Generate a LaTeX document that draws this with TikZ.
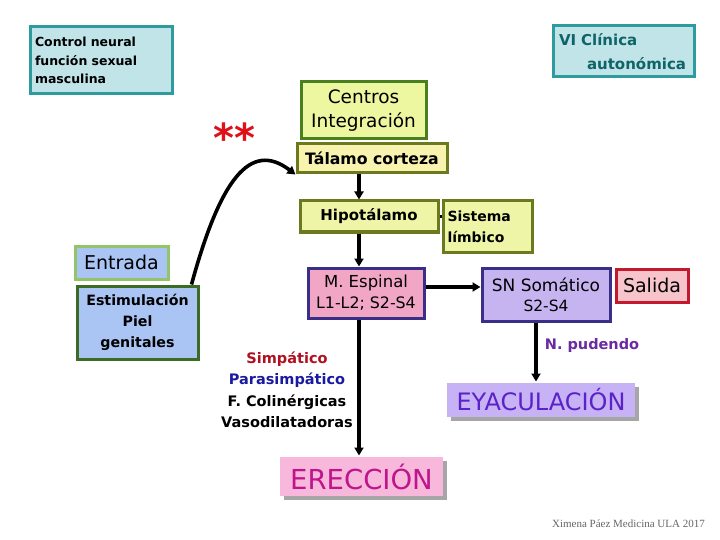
\documentclass[tikz,border=0pt]{standalone}
\usepackage{fontspec}
\setmainfont{DejaVu Sans}
\newfontfamily\footfont{Liberation Serif}
\usetikzlibrary{arrows.meta,shadows,calc}
\definecolor{tealfill}{HTML}{C0E4E8}
\definecolor{tealdraw}{HTML}{2E9B9E}
\definecolor{tealtext}{HTML}{0E6468}
\definecolor{cenfill}{HTML}{EDF7A0}
\definecolor{cendraw}{HTML}{4A7F1F}
\definecolor{talfill}{HTML}{F8F4B0}
\definecolor{oldraw}{HTML}{6B7A1F}
\definecolor{hipfill}{HTML}{EEF5A6}
\definecolor{bluefill}{HTML}{AAC4F4}
\definecolor{lgreen}{HTML}{94C46A}
\definecolor{dgreen}{HTML}{3C6B25}
\definecolor{pinkfill}{HTML}{F2A6C6}
\definecolor{navydraw}{HTML}{3A2F86}
\definecolor{lavfill}{HTML}{C6B4F0}
\definecolor{salfill}{HTML}{F8C4CC}
\definecolor{saldraw}{HTML}{C4182C}
\definecolor{eyfill}{HTML}{C8B2F6}
\definecolor{eytext}{HTML}{5A22C8}
\definecolor{erfill}{HTML}{F8B8DC}
\definecolor{ertext}{HTML}{C0148C}
\definecolor{simred}{HTML}{B01020}
\definecolor{parblue}{HTML}{1A1AA0}
\definecolor{pudpurple}{HTML}{6A2AA0}
\definecolor{starred}{HTML}{E0101A}
\newcommand{\fsz}[2]{\fontsize{#1}{#2}\selectfont}
\begin{document}
\begin{tikzpicture}[x=1pt,y=-1pt,
  boxx/.style={draw, line width=3pt, inner sep=0pt, align=center},
  conn/.style={line width=3.6pt, -{Triangle[length=8pt,width=9pt]}},
  plainconn/.style={line width=3.6pt},
  txt/.style={inner sep=0pt, align=center}]
\useasboundingbox (0,0) rectangle (720,540);
\fill[white] (0,0) rectangle (720,540);

% boxes
\node[boxx, fill=tealfill, draw=tealdraw, minimum width=142pt, minimum height=67pt,
  align=left, text width=132pt, font=\fsz{12.5}{18.5}\bfseries] (ctrl) at (101,60.5)
  {Control neural\\función sexual\\masculina};
\node[boxx, fill=tealfill, draw=tealdraw, minimum width=141pt, minimum height=51pt,
  align=left, text width=130pt, text=tealtext, font=\fsz{15}{24}\bfseries] (vi) at (624,51.5)
  {\mbox{VI Clínica}\\\hspace*{28pt}\mbox{autonómica}};
\node[boxx, fill=cenfill, draw=cendraw, minimum width=125pt, minimum height=57pt,
  font=\fsz{18.5}{24}] (centros) at (363.5,110.5) {Centros\\Integración};
\node[boxx, fill=talfill, draw=oldraw, minimum width=150pt, minimum height=29pt,
  font=\fsz{15.7}{20}\bfseries] (talamo) at (372,158.5) {Tálamo corteza};
\node[boxx, fill=hipfill, draw=oldraw, minimum width=138pt, minimum height=31pt,
  font=\fsz{15}{20}\bfseries] (hipo) at (369,216.5) {Hipotálamo};
\node[boxx, fill=hipfill, draw=oldraw, minimum width=89pt, minimum height=51pt,
  align=left, text width=80pt, font=\fsz{14}{21}\bfseries] (limbico) at (487.5,226.5) {Sistema\\límbico};
\node[boxx, fill=bluefill, draw=lgreen, minimum width=93pt, minimum height=33pt,
  font=\fsz{19}{22}] (entrada) at (121.5,262.5) {Entrada};
\node[boxx, fill=bluefill, draw=dgreen, minimum width=121pt, minimum height=73pt,
  font=\fsz{14.2}{21}\bfseries] (estim) at (137.5,322.5) {Estimulación\\Piel\\genitales};
\node[boxx, fill=pinkfill, draw=navydraw, minimum width=116pt, minimum height=50pt,
  font=\fsz{16.5}{21}] (espinal) at (366,293) {M. Espinal\\{\fsz{15.8}{18}L1-L2; S2-S4}};
\node[boxx, fill=lavfill, draw=navydraw, minimum width=128pt, minimum height=53pt,
  font=\fsz{17}{20}] (sn) at (546,294.5) {SN Somático\\{\fsz{15.5}{18}S2-S4}};
\node[boxx, fill=salfill, draw=saldraw, minimum width=72pt, minimum height=33pt,
  font=\fsz{19}{22}] (salida) at (652,285.5) {Salida};
\node[boxx, draw=none, fill=eyfill, text=eytext, minimum width=188pt, minimum height=34pt,
  drop shadow={shadow xshift=3.5pt, shadow yshift=-3.5pt, fill=black!35, opacity=1},
  font=\fsz{24}{26}] (eyac) at (541,400) {EYACULACIÓN};
\node[boxx, draw=none, fill=erfill, text=ertext, minimum width=163pt, minimum height=39pt,
  drop shadow={shadow xshift=3.5pt, shadow yshift=-3.5pt, fill=black!35, opacity=1},
  font=\fsz{27.5}{30}] (erec) at (361.5,476.5) {ERECCIÓN};

% free texts
\node[txt, text=starred, font=\fsz{40}{40}\bfseries] (stars) at (234,138) {**};
\node[txt, text=pudpurple, font=\fsz{14.5}{18}\bfseries] (pud) at (592,345) {N.\ pudendo};
\node[txt, font=\fsz{14.5}{21.5}\bfseries] (fibras) at (287,390)
  {\textcolor{simred}{Simpático}\\\textcolor{parblue}{Parasimpático}\\F. Colinérgicas\\Vasodilatadoras};
\node[txt, text=black!60, font=\footfont\fsz{11}{13}, anchor=east] (foot) at (705,524)
  {Ximena Páez Medicina ULA 2017};

% guide coordinates
\coordinate (spine) at (359,0);
\coordinate (snline) at (536,0);
\coordinate (midrow) at (0,287);

% connectors
\draw[conn] ($(estim.north east)+(-8,0)$) .. controls (220,180) and (250,140) .. (talamo.south west);
\draw[conn] (talamo.south -| spine) -- (hipo.north -| spine);
\draw[plainconn] (hipo.east) -- (hipo.east -| limbico.west);
\draw[conn] (hipo.south -| spine) -- (espinal.north -| spine);
\draw[conn] (espinal.east |- midrow) -- (sn.west |- midrow);
\draw[conn] (espinal.south -| spine) -- (erec.north -| spine);
\draw[conn] (sn.south -| snline) -- (eyac.north -| snline);
\end{tikzpicture}
\end{document}
